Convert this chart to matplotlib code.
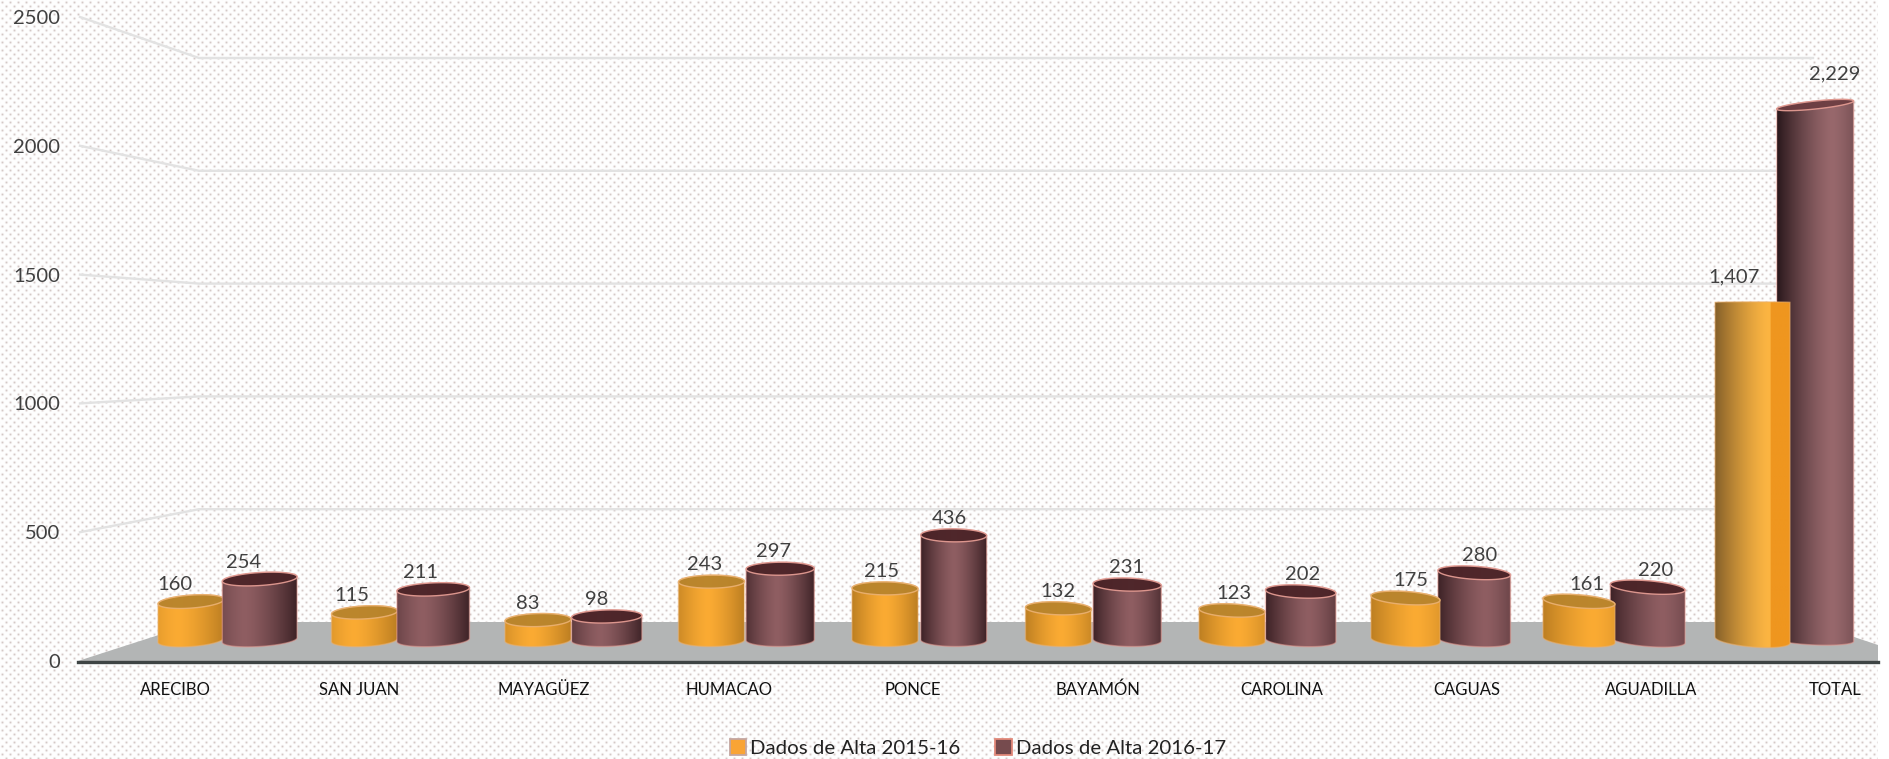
import numpy as np
import matplotlib
matplotlib.use('Agg')
import matplotlib.pyplot as plt
from matplotlib.patches import Polygon, Patch
from matplotlib.colors import to_rgb

regions = ['ARECIBO','SAN JUAN','MAYAGÜEZ','HUMACAO','PONCE','BAYAMÓN','CAROLINA','CAGUAS','AGUADILLA','TOTAL']
alta_1516 = [160,115,83,243,215,132,123,175,161,1407]
alta_1617 = [254,211,98,297,436,231,202,280,220,2229]
y_ticks = [0,500,1000,1500,2000,2500]
legend_names = ['Dados de Alta 2015-16','Dados de Alta 2016-17']

W,H = 1889,759
plt.rcParams['font.family'] = ['Lato','DejaVu Sans']

# pixel <-> data helpers, the axes spans the floor line to the top of the picture
px_cat,x0_px = 173.5,225.
px_val,y0_px = 0.24,640.
ax_l,ax_r,ax_b = 78.,1878.,662.
def xd(px): return (px-x0_px)/px_cat
def yd(px): return (y0_px-px)/px_val
def front_px(v): return 661-0.2576*v
def back_px(v): return 622-0.2256*v

fig = plt.figure(figsize=(W/100.,H/100.),dpi=100,facecolor='white')

# dotted page texture
yy,xx = np.mgrid[0:H,0:W]
u = (xx/4.)%2
v = (yy/4.)%2
def wrap(a,c): return np.minimum(np.abs(a-c),2-np.abs(a-c))
dots = np.maximum(np.exp(-(wrap(u,0.5)**2+wrap(v,0.5)**2)*12),np.exp(-(wrap(u,1.5)**2+wrap(v,1.5)**2)*12))
bg = np.ones((H,W,3))
dot_col = np.array(to_rgb('#c6b6b4'))
bg = bg*(1-dots[...,None]*0.75)+dot_col*dots[...,None]*0.75
bg[:,int(ax_r):] = 1.
fig.figimage(bg,zorder=-5,origin='upper')

ax = fig.add_axes([ax_l/W,(H-ax_b)/H,(ax_r-ax_l)/W,ax_b/H])
ax.patch.set_visible(False)
for s in ['left','right','top']:
    ax.spines[s].set_visible(False)
ax.spines['bottom'].set_color('#3e4444')
ax.spines['bottom'].set_linewidth(2.4)

# floor and walls
ax.add_patch(Polygon([(xd(78),yd(661)),(xd(199),yd(622)),(xd(1809),yd(622)),(xd(1878),yd(645)),(xd(1878),yd(661))],
                     closed=True,fc='#b3b5b5',ec='none',zorder=1))
for t in y_ticks[1:]:
    ax.plot([xd(80),xd(199),xd(1813)],[yd(front_px(t)),yd(back_px(t)),yd(back_px(t))],color='#e2e2e2',lw=1.7,zorder=0.5)

def gradient(hl,dark,bright,step=None):
    t = np.linspace(0,1,120)
    d = np.abs(t-hl)/max(hl,1-hl)
    k = (1-d**1.4)[:,None]
    c = np.array(to_rgb(dark))*(1-k)+np.array(to_rgb(bright))*k
    if step is not None:
        c[t>step] = np.array(to_rgb('#ef961f'))
    return c[None,:,:]

def arc(cx,cy,w,h,tilt,a,b):
    # elliptical arc in picture pixels, returned as data coordinates
    th = np.radians(np.linspace(a,b,60))
    px = cx+w/2.*np.cos(th)
    py = cy+h/2.*np.sin(th)+tilt/2.*np.cos(th)
    return np.column_stack([xd(px),yd(py)])

def cylinder(i,val,off,w,h,base_h,top_tilt,base_tilt,dark,bright,lid,edge,z,step=None):
    cx = x0_px+px_cat*(i+off)
    top = y0_px-px_val*val
    body = np.vstack([arc(cx,top,w,h,top_tilt,180,360),arc(cx,y0_px,w,base_h,base_tilt,0,180)])
    hl = 0.3+0.05*i if i<9 else 0.72
    im = ax.imshow(gradient(hl,dark,bright,step),extent=(xd(cx-w/2.),xd(cx+w/2.),yd(y0_px+20),yd(top-15)),
                   aspect='auto',zorder=z,interpolation='bilinear')
    clip = Polygon(body,closed=True,transform=ax.transData,fc='none',ec='none')
    ax.add_patch(clip)
    im.set_clip_path(clip)
    ax.add_patch(Polygon(body,closed=True,fc='none',ec=edge,lw=1.0,alpha=0.55,zorder=z+0.1))
    if h>2:
        ax.add_patch(Polygon(arc(cx,top,w,h,top_tilt,0,360),closed=True,fc=lid,ec=edge,lw=1.0,alpha=0.95,zorder=z+0.2))

for i in range(len(regions)):
    tilt = (i-3.5)*1.3
    if i<9:
        w_o,w_b = 66+max(0,i-6)*3,66+2.2*abs(i-4)
        cylinder(i,alta_1516[i],-0.196,w_o,13,13,tilt,tilt,'#bd7f22','#fbab33','#b8842c','#eab070',6 if i>=7 else 4)
        cylinder(i,alta_1617[i],0.2,w_b,13,13,tilt,tilt,'#3e2327','#8f5e62','#4c2428','#e39b92',5)
    else:
        cylinder(i,alta_1617[i],0.165,77,8,10,-8,3,'#2a181c','#98686c','#6d3e42','#e39b92',5)
        cylinder(i,alta_1516[i],-0.196,75,1,14,0,6,'#85602a','#fcb542','#b8842c','#eab070',6,step=0.74)
    if i<9:
        dx = (i-5.3)*3
        dxs = (dx,dx)
        dys = (17,17)
    else:
        dxs = (-19,20)
        dys = (25,31)
    for k,val in enumerate((alta_1516[i],alta_1617[i])):
        off = -0.196 if k==0 else (0.2 if i<9 else 0.165)
        ax.annotate('{:,}'.format(val),(i+off,val),xytext=(dxs[k],dys[k]),textcoords='offset pixels',
                    ha='center',va='center',fontsize=14.5,color='#404040',zorder=10)

ax.set_xlim(xd(ax_l),xd(ax_r))
ax.set_ylim(yd(ax_b),yd(0))
ax.set_yticks([yd(front_px(t)) for t in y_ticks])
ax.set_yticklabels([str(t) for t in y_ticks],fontsize=14.5,color='#404040')
ax.set_xticks([xd(175+184.5*i) for i in range(len(regions))])
ax.set_xticklabels(regions,fontsize=12,color='#111111',va='baseline')
ax.tick_params(axis='y',length=0,pad=13)
ax.tick_params(axis='x',length=0,pad=24)

handles = [Patch(fc='#f9a435',ec='#c4a6a0',lw=1.3),Patch(fc='#764b4e',ec='#e2897a',lw=1.3)]
fig.legend(handles,legend_names,loc='center',bbox_to_anchor=(978./W,1-748./H),ncol=2,frameon=False,fontsize=14.7,
           handlelength=0.8,handleheight=0.8,handletextpad=0.2,columnspacing=1.7,labelcolor='#222222',borderpad=0)

fig.savefig('out.png',dpi=100)
